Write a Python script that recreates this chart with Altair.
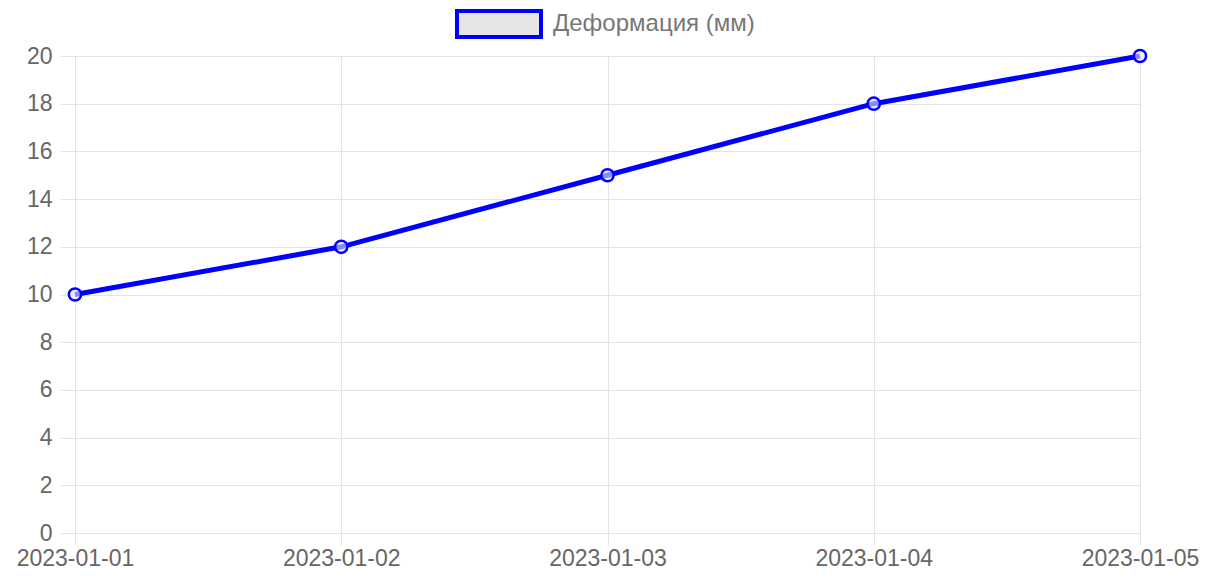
import altair as alt
import pandas as pd

dates = ["2023-01-01", "2023-01-02", "2023-01-03", "2023-01-04", "2023-01-05"]
values = [10, 12, 15, 18, 20]
series = "Деформация (мм)"

df = pd.DataFrame({"date": dates, "value": values, "series": [series] * len(dates)})

FONT = "Liberation Sans"
GRID = "#e4e4e4"
LABEL = "#666666"

x = alt.X("date:O", title=None,
          scale=alt.Scale(type="point", padding=0),
          axis=alt.Axis(labelAngle=0, labelFontSize=23, labelColor=LABEL, labelFont=FONT,
                        grid=True, gridColor=GRID, tickColor=GRID, tickSize=12,
                        domainColor=GRID, labelPadding=2))
y = alt.Y("value:Q", title=None,
          scale=alt.Scale(domain=[0, 20], nice=False),
          axis=alt.Axis(values=list(range(0, 21, 2)), labelFontSize=23, labelColor=LABEL,
                        labelFont=FONT, gridColor=GRID, tickColor=GRID, tickSize=15,
                        domainColor=GRID, labelPadding=8))
color = alt.Color("series:N", scale=alt.Scale(domain=[series], range=["#0000ff"]),
                  legend=alt.Legend(title=None, orient="none", legendX=380, legendY=-76,
                                    symbolType="M-1,-0.31H1V0.31H-1Z", symbolSize=7056,
                                    symbolFillColor="#e6e6e6", symbolStrokeColor="#0000ff",
                                    symbolStrokeWidth=4, symbolOpacity=1,
                                    labelFontSize=24, labelColor="#777777", labelFont=FONT,
                                    labelLimit=0, labelOffset=10, padding=0))

line = alt.Chart(df).mark_line(strokeWidth=5).encode(x=x, y=y, color=color)
points = alt.Chart(df).mark_point(size=150, strokeWidth=2.5, filled=False,
                                  fill="#e6e6ff", fillOpacity=0.6, opacity=1).encode(
    x=x, y=y, color=alt.Color("series:N", scale=alt.Scale(domain=[series], range=["#0000ff"]), legend=None))

chart = alt.layer(line, points).properties(
    width=1065, height=477,
    autosize=alt.AutoSizeParams(type="none"),
    padding={"left": 67, "top": 48, "right": 68, "bottom": 43},
).configure_view(stroke=None).configure(font=FONT, background="white")

chart.save("out.html", embed_options={"renderer": "svg", "actions": False})
